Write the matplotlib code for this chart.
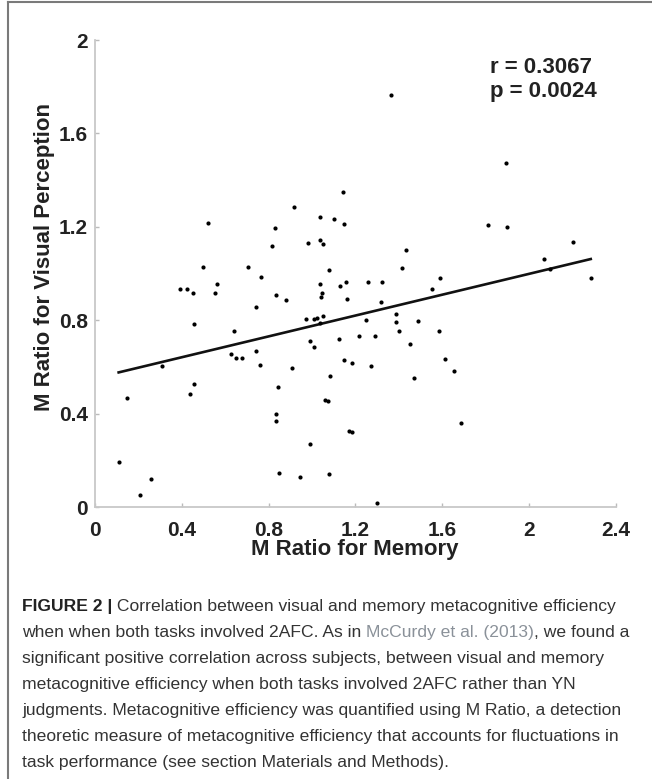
import matplotlib
matplotlib.use("Agg")
import matplotlib.pyplot as plt
import numpy as np
from matplotlib.lines import Line2D

# M Ratio values (memory on x, visual perception on y)
m_ratio_memory = [
    0.522, 0.830, 0.817, 1.365, 1.895, 1.145, 0.917, 1.037, 1.103, 1.148,
    0.981, 1.037, 1.050, 1.432, 1.813, 1.898, 2.201, 2.070, 2.095, 2.285,
    0.498, 0.705, 0.765, 0.390, 0.426, 0.453, 0.562, 0.555, 0.833, 0.741,
    0.456, 0.639, 0.628, 0.649, 0.676, 0.741, 0.759, 0.309, 0.455, 0.439,
    0.146, 0.845, 0.833, 0.833, 0.109, 0.257, 0.206, 0.848, 1.414, 1.079,
    1.591, 1.555, 1.037, 1.130, 1.159, 1.259, 1.325, 0.881, 1.048, 1.041,
    1.163, 1.320, 1.388, 1.388, 1.491, 1.249, 0.974, 1.011, 1.022, 1.050,
    1.037, 1.402, 1.585, 0.993, 1.008, 1.126, 1.216, 1.292, 1.454, 1.147,
    1.186, 1.271, 0.907, 1.612, 1.654, 1.083, 1.471, 1.062, 1.073, 1.689,
    1.170, 1.183, 0.993, 0.944, 1.077, 1.300,
]
m_ratio_visual = [
    1.218, 1.194, 1.120, 1.765, 1.475, 1.348, 1.286, 1.241, 1.234, 1.211,
    1.133, 1.143, 1.126, 1.100, 1.210, 1.199, 1.136, 1.063, 1.019, 0.980,
    1.027, 1.027, 0.987, 0.936, 0.936, 0.916, 0.956, 0.919, 0.908, 0.856,
    0.785, 0.753, 0.658, 0.639, 0.640, 0.670, 0.610, 0.606, 0.527, 0.485,
    0.469, 0.514, 0.399, 0.369, 0.195, 0.121, 0.051, 0.146, 1.026, 1.016,
    0.980, 0.935, 0.956, 0.949, 0.964, 0.964, 0.963, 0.889, 0.916, 0.902,
    0.893, 0.880, 0.829, 0.793, 0.796, 0.801, 0.805, 0.807, 0.809, 0.819,
    0.790, 0.756, 0.756, 0.712, 0.685, 0.719, 0.733, 0.732, 0.698, 0.631,
    0.618, 0.604, 0.598, 0.635, 0.585, 0.563, 0.552, 0.458, 0.455, 0.361,
    0.325, 0.322, 0.270, 0.130, 0.141, 0.020,
]

# least-squares line as drawn in the figure
fit_slope = 0.223
fit_intercept = 0.553

x_ticks = [0, 0.4, 0.8, 1.2, 1.6, 2, 2.4]
x_tick_labels = ["0", "0.4", "0.8", "1.2", "1.6", "2", "2.4"]
y_ticks = [0, 0.4, 0.8, 1.2, 1.6, 2]
y_tick_labels = ["0", "0.4", "0.8", "1.2", "1.6", "2"]

stats_text = "r = 0.3067\np = 0.0024"

TXT = "#333333"
LINK = "#8a9199"
caption_lines = [
    [("FIGURE 2 |", "bold", "#222222"),
     (" Correlation between visual and memory metacognitive efficiency", "normal", TXT)],
    [("when when both tasks involved 2AFC. As in ", "normal", TXT),
     ("McCurdy et al. (2013)", "normal", LINK),
     (", we found a", "normal", TXT)],
    [("significant positive correlation across subjects, between visual and memory", "normal", TXT)],
    [("metacognitive efficiency when both tasks involved 2AFC rather than YN", "normal", TXT)],
    [("judgments. Metacognitive efficiency was quantified using M Ratio, a detection", "normal", TXT)],
    [("theoretic measure of metacognitive efficiency that accounts for fluctuations in", "normal", TXT)],
    [("task performance (see section Materials and Methods).", "normal", TXT)],
]

plt.rcParams["font.family"] = ["Liberation Sans", "DejaVu Sans"]

W, H = 652, 779
fig = plt.figure(figsize=(W / 100, H / 100), dpi=100)
fig.patch.set_facecolor("white")

ax = fig.add_axes([95 / W, 1 - 507.3 / H, (615.7 - 95) / W, (507.3 - 40) / H])

ax.scatter(m_ratio_memory, m_ratio_visual, s=9, color="black", linewidths=0, zorder=3)

xs = np.array([min(m_ratio_memory), max(m_ratio_memory)])
ax.plot(xs, fit_intercept + fit_slope * xs, color="#111111", lw=1.9, zorder=2)

ax.set_xlim(0, 2.4)
ax.set_ylim(0, 2)
ax.set_xticks(x_ticks)
ax.set_xticklabels(x_tick_labels)
ax.set_yticks(y_ticks)
ax.set_yticklabels(y_tick_labels)

for side in ["top", "right"]:
    ax.spines[side].set_visible(False)
for side in ["left", "bottom"]:
    ax.spines[side].set_color("#c8c8c8")
    ax.spines[side].set_linewidth(1.3)

ax.tick_params(axis="x", direction="in", length=3, width=1, color="#bbbbbb",
               pad=10, labelsize=15, labelcolor="#222222")
ax.tick_params(axis="y", direction="in", length=3, width=1, color="#bbbbbb",
               pad=5, labelsize=15, labelcolor="#222222")
for lab in ax.get_xticklabels() + ax.get_yticklabels():
    lab.set_fontweight("bold")

ax.text(1.82, 1.83, stats_text, fontsize=16, fontweight="bold", color="#222222",
        ha="left", va="center", linespacing=1.2)

fig.text(355 / W, 1 - 550 / H, "M Ratio for Memory", fontsize=16, fontweight="bold",
         color="#222222", ha="center", va="center")
fig.text(45 / W, 1 - 257 / H, "M Ratio for Visual Perception", fontsize=16,
         fontweight="bold", color="#222222", ha="center", va="center", rotation=90)

# caption, one line at a time so the breaks match; pieces placed after each other
renderer = fig.canvas.get_renderer()
cap_size = 12.6
y0 = 611
for i, pieces in enumerate(caption_lines):
    x_px = 22
    y = 1 - (y0 + i * 26) / H
    for txt, weight, col in pieces:
        t = fig.text(x_px / W, y, txt, fontsize=cap_size, fontweight=weight,
                     color=col, ha="left", va="baseline")
        x_px = t.get_window_extent(renderer).x1

# frame lines on the left and top
fig.add_artist(Line2D([8 / W, 8 / W], [0, 1 - 2 / H], color="#7a7a7a", lw=1.5))
fig.add_artist(Line2D([8 / W, 1], [1 - 2 / H, 1 - 2 / H], color="#7a7a7a", lw=1.5))

fig.savefig("out.png", dpi=100)
